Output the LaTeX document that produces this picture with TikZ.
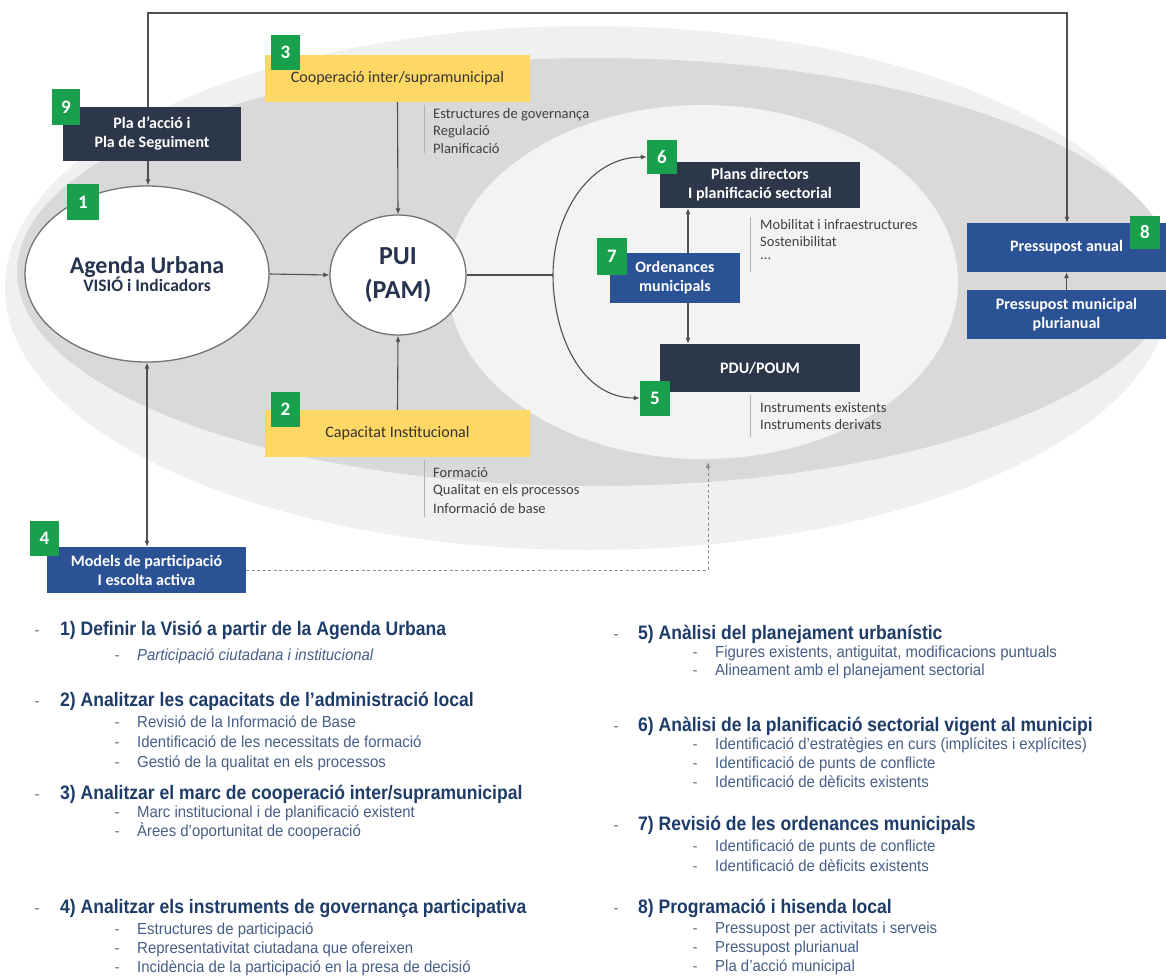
\documentclass[tikz,border=0pt]{standalone}
\usepackage{fontspec}
\setmainfont{Carlito}
\newfontfamily\headfont[FakeStretch=0.9]{Liberation Sans}
\newfontfamily\subfont[FakeStretch=0.935]{Liberation Sans}
\usetikzlibrary{arrows.meta,shapes.geometric,calc}
\definecolor{bgout}{RGB}{240,240,240}
\definecolor{bgmid}{RGB}{217,217,217}
\definecolor{bgin}{RGB}{243,243,243}
\definecolor{byellow}{RGB}{255,215,100}
\definecolor{bnavy}{RGB}{45,55,74}
\definecolor{bblue}{RGB}{44,82,150}
\definecolor{bgreen}{RGB}{24,160,76}
\definecolor{tnavy}{RGB}{38,52,79}
\definecolor{connc}{RGB}{80,80,80}
\definecolor{htext}{RGB}{30,60,105}
\definecolor{stext}{RGB}{70,95,135}
\begin{document}
\begin{tikzpicture}[x=1pt,y=-1pt,
 box/.style={rectangle,inner sep=0pt,align=center},
 ybox/.style={box,fill=byellow,text=black!80,font=\fontsize{16}{19}\selectfont},
 nbox/.style={box,fill=bnavy,text=white,font=\bfseries\fontsize{16}{19}\selectfont},
 blbox/.style={box,fill=bblue,text=white,font=\bfseries\fontsize{16}{19}\selectfont},
 badge/.style={rectangle,fill=bgreen,text=white,inner sep=0pt,minimum width=29pt,minimum height=35pt,font=\bfseries\fontsize{19}{20}\selectfont},
 conn/.style={draw=connc,line width=1.1pt},
 arr/.style={conn,-{Latex[length=6pt,width=5pt]}},
 blt/.style={anchor=west,inner sep=0pt,text=black!75,font=\fontsize{14.5}{16}\selectfont},
 bline/.style={draw=black!30,line width=1pt},
 head/.style={anchor=base west,inner sep=0pt,text=htext,font=\headfont\bfseries\fontsize{19.5}{22}\selectfont},
 sub/.style={anchor=base west,inner sep=0pt,text=stext,font=\subfont\fontsize{16}{18}\selectfont},
 dsh/.style={anchor=base,inner sep=0pt,text=black!55,font=\subfont\fontsize{16}{18}\selectfont},
]
\useasboundingbox (0,0) rectangle (1166,978);
\fill[white] (0,0) rectangle (1166,978);
% background
\fill[bgout] (588,288) ellipse [x radius=583, y radius=262];
\fill[bgmid] (595,272) ellipse [x radius=578, y radius=214];
\fill[bgin] (703,282) ellipse [x radius=255, y radius=177];

% nodes
\node[ybox,minimum width=265pt,minimum height=47pt] (b3) at (397.5,78.5) {Cooperació inter/supramunicipal};
\node[badge] (g3) at (285.5,52.5) {3};
\node[nbox,minimum width=178pt,minimum height=54pt] (b9) at (152,134) {Pla d’acció i\\Pla de Seguiment};
\node[badge,minimum width=28pt,minimum height=36pt] (g9) at (66,107) {9};
\node[ellipse,draw=black!55,line width=1.3pt,fill=white,minimum width=244pt,minimum height=176pt,inner sep=0pt,align=center,text=tnavy] (agenda) at (147,274)
 {\bfseries\fontsize{24}{28}\selectfont Agenda Urbana\\[-2pt]\bfseries\fontsize{17.5}{20}\selectfont VISIÓ i Indicadors};
\node[badge,minimum width=32pt,minimum height=36pt] (g1) at (83,202) {1};
\node[ellipse,draw=black!55,line width=1.3pt,fill=white,minimum width=136pt,minimum height=120pt,inner sep=0pt,align=center,text=tnavy,font=\bfseries\fontsize{26}{34}\selectfont] (pui) at (398,275) {PUI\\(PAM)};
\node[ybox,minimum width=265pt,minimum height=47pt] (b2) at (397.5,433.5) {Capacitat Institucional};
\node[badge] (g2) at (285.5,409.5) {2};
\node[blbox,minimum width=199pt,minimum height=46pt] (b4) at (146.5,570) {Models de participació\\I escolta activa};
\node[badge] (g4) at (44.5,538.5) {4};
\node[nbox,minimum width=200pt,minimum height=46pt] (b6) at (760,185) {Plans directors\\I planificació sectorial};
\node[badge,minimum width=30pt,minimum height=34pt] (g6) at (662,157) {6};
\node[blbox,minimum width=130pt,minimum height=50pt] (b7) at (675,278) {Ordenances\\municipals};
\node[badge,minimum width=30pt,minimum height=37pt] (g7) at (612,256.5) {7};
\node[nbox,minimum width=200pt,minimum height=48pt] (b5) at (760,368) {PDU/POUM};
\node[badge,minimum width=30pt,minimum height=35pt] (g5) at (655,398) {5};
\node[blbox,minimum width=199pt,minimum height=49pt] (b8) at (1066.5,247.5) {Pressupost anual};
\node[badge,minimum width=30pt,minimum height=33pt] (g8) at (1145,232.5) {8};
\node[blbox,minimum width=199pt,minimum height=49pt] (bp) at (1066.5,314.5) {Pressupost municipal\\plurianual};

% bullet blocks
\draw[bline] (424,105) coordinate (l3a) -- (424,153) coordinate (l3b);
\node[blt] (t3a) at (433,115) {Estructures de governança};
\node[blt] (t3b) at (433,132) {Regulació};
\node[blt] (t3c) at (433,149) {Planificació};
\draw[bline] (424,460) coordinate (l2a) -- (424,517) coordinate (l2b);
\node[blt] (t2a) at (433,473) {Formació};
\node[blt] (t2b) at (433,491) {Qualitat en els processos};
\node[blt] (t2c) at (433,509) {Informació de base};
\draw[bline] (750,217) coordinate (l6a) -- (750,272) coordinate (l6b);
\node[blt] (t6a) at (760,225) {Mobilitat i infraestructures};
\node[blt] (t6b) at (760,242) {Sostenibilitat};
\node[blt] (t6c) at (760,259) {...};
\draw[bline] (750,395) coordinate (l5a) -- (750,437) coordinate (l5b);
\node[blt] (t5a) at (760,408) {Instruments existents};
\node[blt] (t5b) at (760,425) {Instruments derivats};

% connectors
\coordinate (tl) at (148,13);
\coordinate (tr) at (1067,13);
\draw[arr] (tl |- b9.north) -- (tl) -- (tr) -- (tr |- b8.north);
\draw[arr] (tl |- b9.south) -- (tl |- agenda.north);
\draw[arr] (agenda.east) -- (pui.west);
\draw[arr] (b3.south) -- (pui.north);
\draw[arr] (b2.north) -- (pui.south);
\draw[conn,{Latex[length=6pt,width=5pt]}-{Latex[length=6pt,width=5pt]}] (agenda.south) -- (agenda.south |- b4.north);
\coordinate (inb) at (708,462);
\draw[draw=black!45,line width=1pt,dash pattern=on 3pt off 2.5pt,-{Latex[length=6pt,width=5pt]}] (b4.east) -| (inb);
\coordinate (arcL) at (553,275);
\draw[conn] (pui.east) -- (arcL);
\draw[arr] (arcL) to[out=90,in=180] (g6.west);
\draw[arr] (arcL) to[out=-90,in=180] (g5.west);
\coordinate (v7) at (688,0);
\draw[arr] (v7 |- b7.north) -- (v7 |- b6.south);
\draw[arr] (v7 |- b7.south) -- (v7 |- b5.north);
\draw[arr] (bp.north) -- (b8.south);

% list left (y = baseline)
\node[dsh] (d1) at (37,635) {-};
\node[head] (h1) at (60,635) {1) Definir la Visió a partir de la Agenda Urbana};
\node[dsh] (d1a) at (117,660) {-};
\node[sub] (s1a) at (137,660) {\itshape Participació ciutadana i institucional};
\node[dsh] (d2) at (37,706) {-};
\node[head] (h2) at (60,706) {2) Analitzar les capacitats de l’administració local};
\node[dsh] (d2a) at (117,727) {-};
\node[sub] (s2a) at (137,727) {Revisió de la Informació de Base};
\node[dsh] (d2b) at (117,747) {-};
\node[sub] (s2b) at (137,747) {Identificació de les necessitats de formació};
\node[dsh] (d2c) at (117,767) {-};
\node[sub] (s2c) at (137,767) {Gestió de la qualitat en els processos};
\node[dsh] (d3) at (37,799) {-};
\node[head] (h3) at (60,799) {3) Analitzar el marc de cooperació inter/supramunicipal};
\node[dsh] (d3a) at (117,817) {-};
\node[sub] (s3a) at (137,817) {Marc institucional i de planificació existent};
\node[dsh] (d3b) at (117,836) {-};
\node[sub] (s3b) at (137,836) {Àrees d’oportunitat de cooperació};
\node[dsh] (d4) at (37,913) {-};
\node[head] (h4) at (60,913) {4) Analitzar els instruments de governança participativa};
\node[dsh] (d4a) at (117,934) {-};
\node[sub] (s4a) at (137,934) {Estructures de participació};
\node[dsh] (d4b) at (117,953) {-};
\node[sub] (s4b) at (137,953) {Representativitat ciutadana que ofereixen};
\node[dsh] (d4c) at (117,972) {-};
\node[sub] (s4c) at (137,972) {Incidència de la participació en la presa de decisió};
% list right
\node[dsh] (d5) at (616,639) {-};
\node[head] (h5) at (638,639) {5) Anàlisi del planejament urbanístic};
\node[dsh] (d5a) at (695,657) {-};
\node[sub] (s5a) at (715,657) {Figures existents, antiguitat, modificacions puntuals};
\node[dsh] (d5b) at (695,675) {-};
\node[sub] (s5b) at (715,675) {Alineament amb el planejament sectorial};
\node[dsh] (d6) at (616,731) {-};
\node[head] (h6) at (638,731) {6) Anàlisi de la planificació sectorial vigent al municipi};
\node[dsh] (d6a) at (695,749) {-};
\node[sub] (s6a) at (715,749) {Identificació d’estratègies en curs (implícites i explícites)};
\node[dsh] (d6b) at (695,768) {-};
\node[sub] (s6b) at (715,768) {Identificació de punts de conflicte};
\node[dsh] (d6c) at (695,787) {-};
\node[sub] (s6c) at (715,787) {Identificació de dèficits existents};
\node[dsh] (d7) at (616,830) {-};
\node[head] (h7) at (638,830) {7) Revisió de les ordenances municipals};
\node[dsh] (d7a) at (695,851) {-};
\node[sub] (s7a) at (715,851) {Identificació de punts de conflicte};
\node[dsh] (d7b) at (695,871) {-};
\node[sub] (s7b) at (715,871) {Identificació de dèficits existents};
\node[dsh] (d8) at (616,913) {-};
\node[head] (h8) at (638,913) {8) Programació i hisenda local};
\node[dsh] (d8a) at (695,933) {-};
\node[sub] (s8a) at (715,933) {Pressupost per activitats i serveis};
\node[dsh] (d8b) at (695,952) {-};
\node[sub] (s8b) at (715,952) {Pressupost plurianual};
\node[dsh] (d8c) at (695,971) {-};
\node[sub] (s8c) at (715,971) {Pla d’acció municipal};
\end{tikzpicture}
\end{document}
